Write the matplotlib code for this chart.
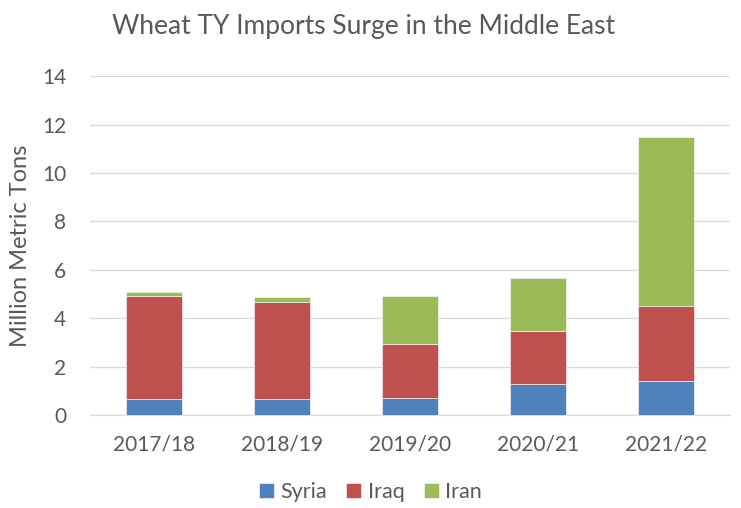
import matplotlib
matplotlib.use("Agg")
import matplotlib.pyplot as plt
import numpy as np

plt.rcParams['font.family'] = ['Lato', 'DejaVu Sans']

years = ["2017/18", "2018/19", "2019/20", "2020/21", "2021/22"]
syria = [0.65, 0.68, 0.70, 1.30, 1.40]
iraq = [4.27, 4.01, 2.24, 2.16, 3.12]
iran = [0.18, 0.18, 1.99, 2.19, 6.98]

text_col = '#595959'
grid_col = '#d9d9d9'

fig = plt.figure(figsize=(7.41, 5.08), dpi=100)
ax = fig.add_axes([0.121, 0.183, 0.864, 0.667])

x = np.arange(len(years))
w = 0.44
b1 = ax.bar(x, syria, w, color='#4F81BD', edgecolor='#ffffff', linewidth=0.4, label='Syria', zorder=3)
b2 = ax.bar(x, iraq, w, bottom=syria, color='#C0504D', edgecolor='#ffffff', linewidth=0.4, label='Iraq', zorder=3)
bottom2 = np.array(syria) + np.array(iraq)
b3 = ax.bar(x, iran, w, bottom=bottom2, color='#9BBB59', edgecolor='#ffffff', linewidth=0.4, label='Iran', zorder=3)

ax.set_xlim(-0.5, len(years) - 0.5)
ax.set_ylim(0, 14)
ax.set_yticks(range(0, 15, 2))
ax.set_xticks(x)
ax.set_xticklabels(years)
ax.tick_params(axis='both', length=0, labelsize=15, colors=text_col)
ax.tick_params(axis='y', pad=17)
ax.tick_params(axis='x', pad=14)
ax.grid(axis='y', color=grid_col, linewidth=1, zorder=0)
for s in ['top', 'right', 'left']:
    ax.spines[s].set_visible(False)
ax.spines['bottom'].set_color(grid_col)

ax.set_ylabel('Million Metric Tons', fontsize=17, color=text_col, labelpad=8)
fig.text(0.49, 0.948, 'Wheat TY Imports Surge in the Middle East', ha='center', va='center',
         fontsize=19, color=text_col)

fig.legend(handles=[b1, b2, b3], loc='center', bbox_to_anchor=(0.5, 0.032), ncol=3,
           frameon=False, fontsize=15.5, labelcolor=text_col, handlelength=0.7,
           handleheight=0.7, handletextpad=0.3, columnspacing=0.9)

fig.savefig('out.png', dpi=100)
